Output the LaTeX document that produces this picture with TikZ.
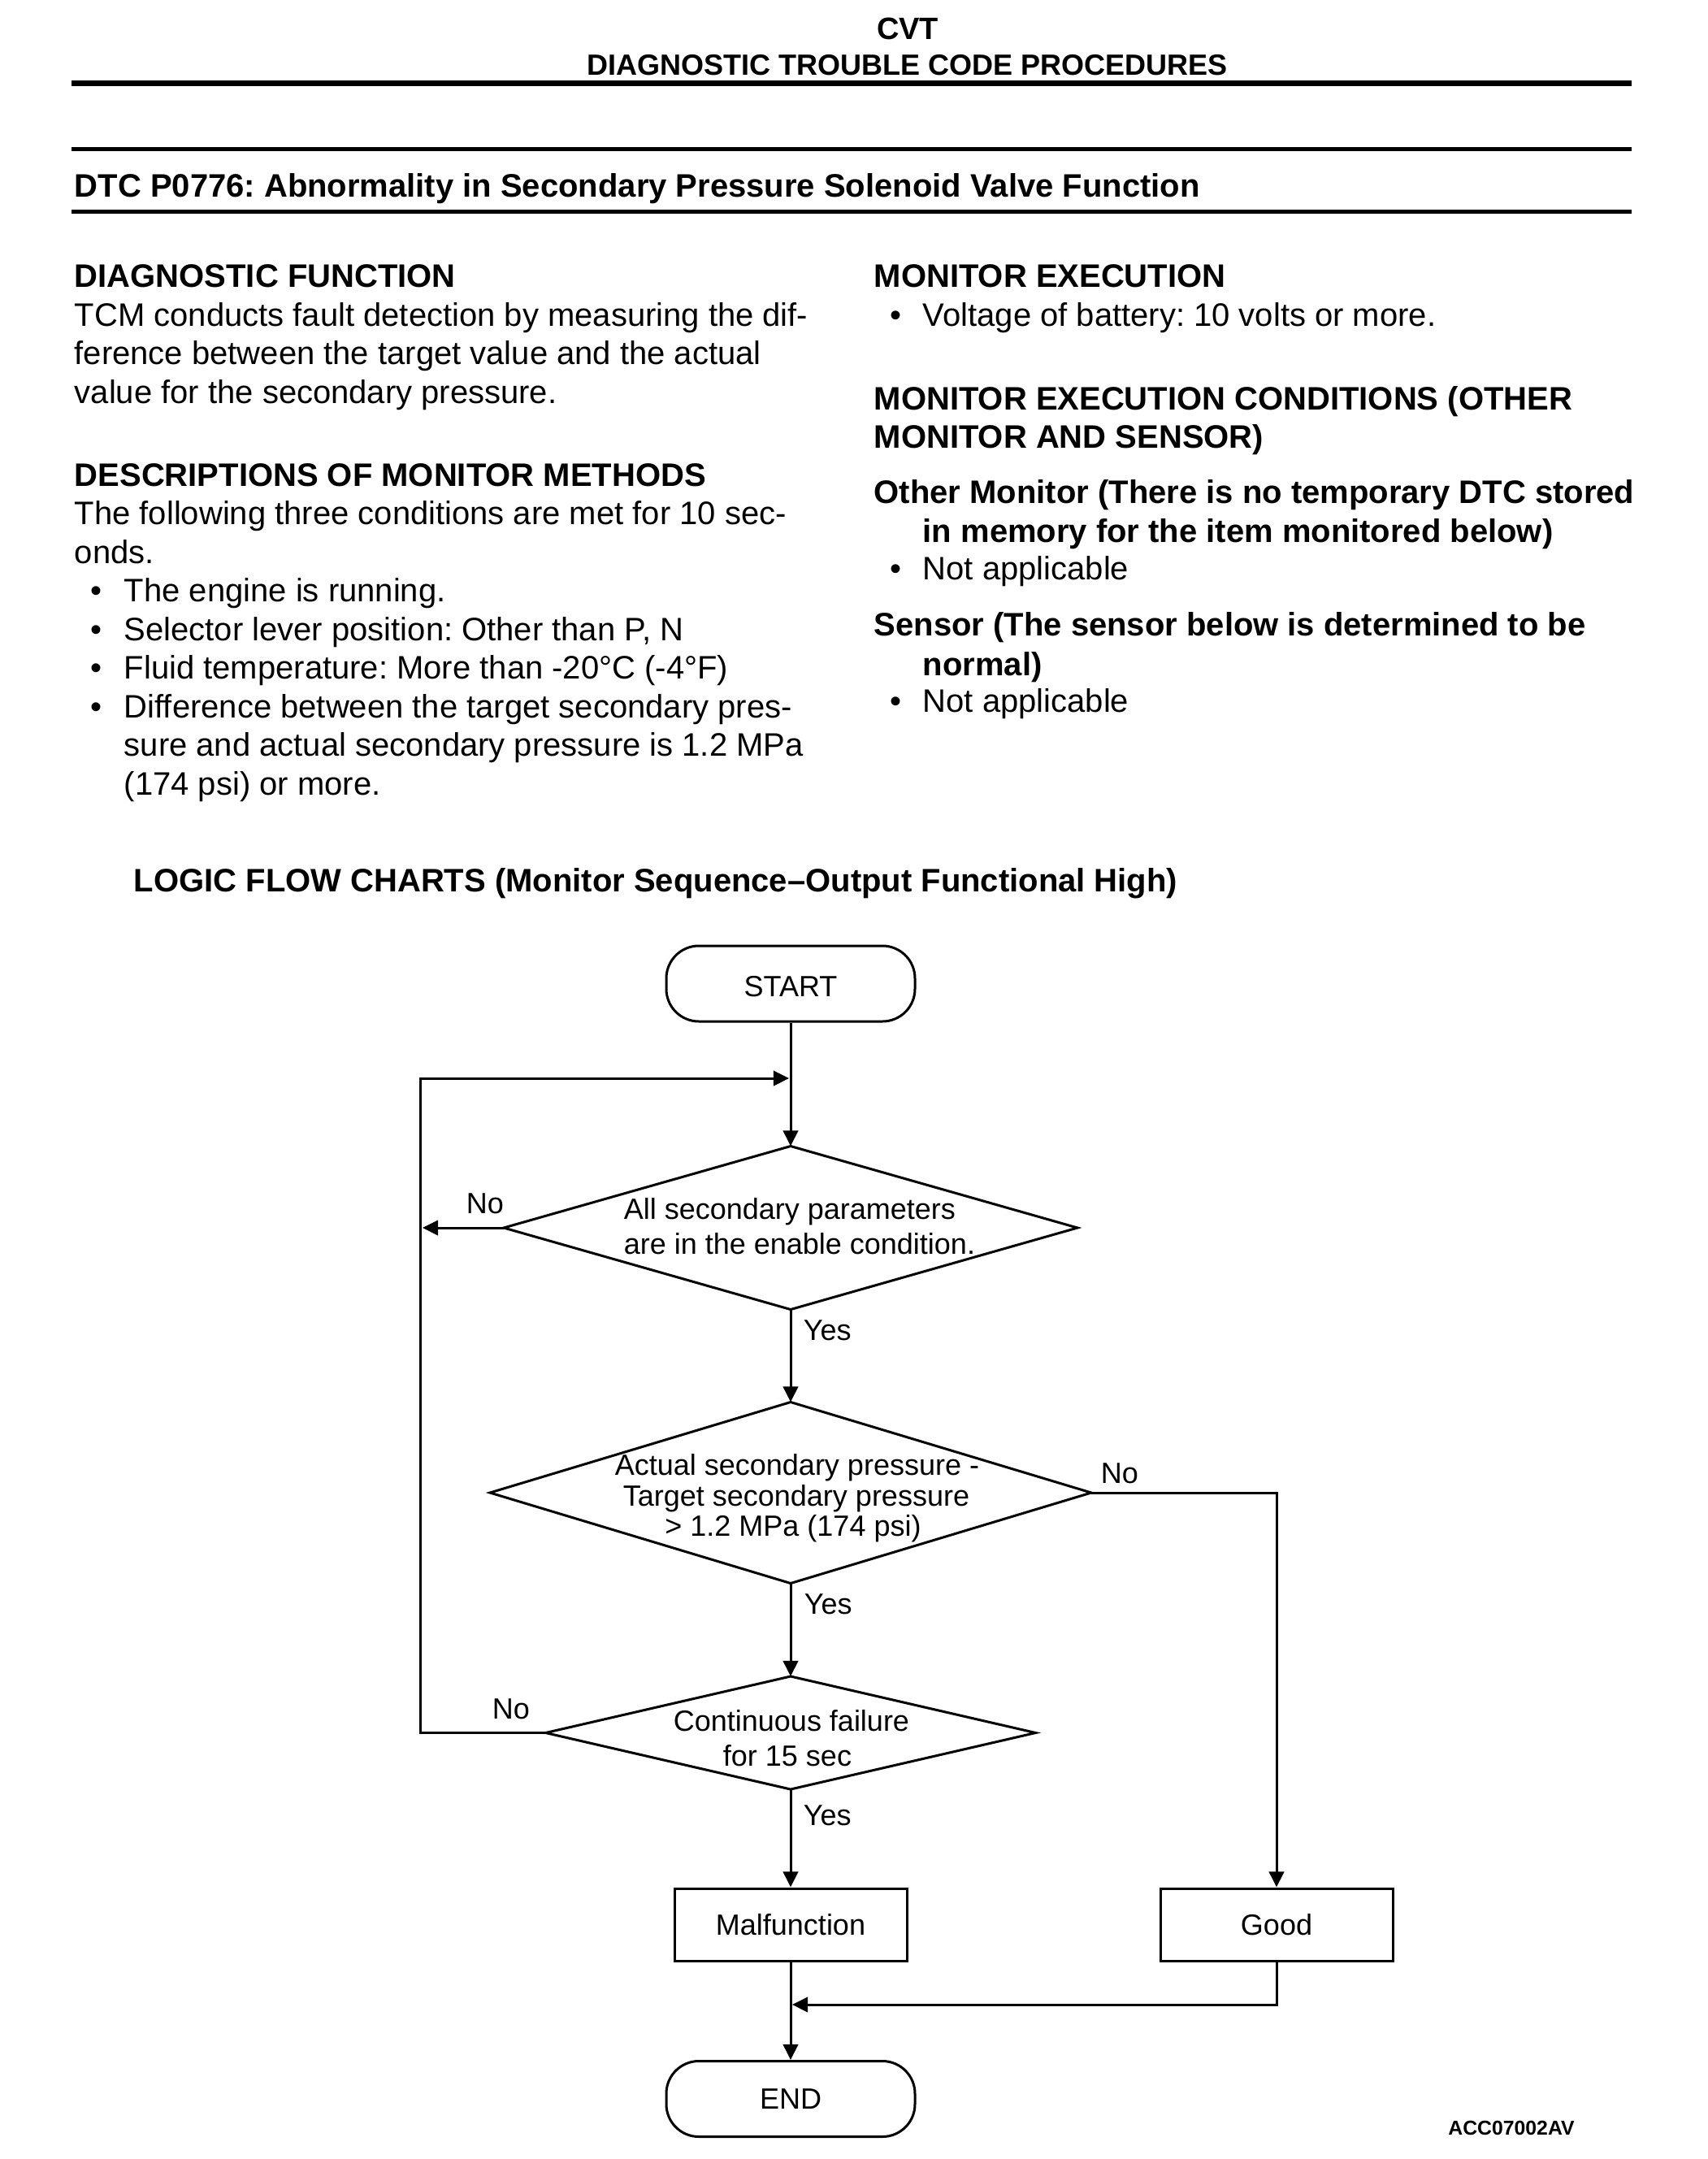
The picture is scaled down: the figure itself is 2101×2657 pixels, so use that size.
\documentclass[tikz,border=0pt]{standalone}
\usepackage{fontspec}
\setmainfont{Liberation Sans}
\usetikzlibrary{arrows.meta,shapes.geometric}
\frenchspacing
\begin{document}
\begin{tikzpicture}[x=0.25pt,y=-0.25pt,
  body/.style={anchor=base west,inner sep=0pt,font=\fontsize{10}{12}\selectfont},
  head/.style={anchor=base west,inner sep=0pt,font=\fontsize{10}{12}\selectfont\bfseries},
  bul/.style={anchor=base,inner sep=0pt,font=\fontsize{10}{12}\selectfont},
  fct/.style={anchor=base,inner sep=0pt,font=\fontsize{9}{11}\selectfont},
  fcl/.style={anchor=base west,inner sep=0pt,font=\fontsize{9}{11}\selectfont},
  term/.style={draw,line width=0.75pt,rectangle,rounded corners=10pt,minimum width=76.5pt,minimum height=23.25pt,inner sep=0pt,font=\fontsize{9}{11}\selectfont},
  box/.style={draw,line width=0.75pt,rectangle,minimum width=71.5pt,minimum height=22.25pt,inner sep=0pt,font=\fontsize{9}{11}\selectfont},
  dia/.style={draw,line width=0.75pt,diamond,inner sep=0pt,outer sep=0pt},
  conn/.style={line width=0.75pt,-{Triangle[length=4.8pt,width=4.6pt]}},
  plain/.style={line width=0.75pt}
]
\useasboundingbox (0,0) rectangle (2101,2657);

% ---------- page header ----------
\node[anchor=base,inner sep=0pt,font=\fontsize{9.5}{11}\selectfont\bfseries] (cvt) at (1117,48) {CVT};
\node[anchor=base,inner sep=0pt,font=\fontsize{9}{11}\selectfont\bfseries] (dtcp) at (1117,92) {DIAGNOSTIC TROUBLE CODE PROCEDURES};
\draw[line width=1.75pt] (88,102) -- (2008,102);
\draw[line width=1.25pt] (88,183) -- (2008,183);
\node[head] (title) at (91,242) {DTC P0776: Abnormality in Secondary Pressure Solenoid Valve Function};
\draw[line width=1.25pt] (88,260) -- (2008,260);

% ---------- left column ----------
\node[head] (h1) at (91,353) {DIAGNOSTIC FUNCTION};
\node[body] (l1) at (91,401) {TCM conducts fault detection by measuring the dif-};
\node[body] (l2) at (91,448) {ference between the target value and the actual};
\node[body] (l3) at (91,496) {value for the secondary pressure.};
\node[head] (h2) at (91,598) {DESCRIPTIONS OF MONITOR METHODS};
\node[body] (l4) at (91,645) {The following three conditions are met for 10 sec-};
\node[body] (l5) at (91,693) {onds.};
\node[bul] (b1) at (119,740) {•};
\node[body] (l6) at (152,740) {The engine is running.};
\node[bul] (b2) at (119,788) {•};
\node[body] (l7) at (152,788) {Selector lever position: Other than P, N};
\node[bul] (b3) at (119,835) {•};
\node[body] (l8) at (152,835) {Fluid temperature: More than -20°C (-4°F)};
\node[bul] (b4) at (119,883) {•};
\node[body] (l9) at (152,883) {Difference between the target secondary pres-};
\node[body] (l10) at (152,930) {sure and actual secondary pressure is 1.2 MPa};
\node[body] (l11) at (152,978) {(174 psi) or more.};

% ---------- right column ----------
\node[head] (h3) at (1075,353) {MONITOR EXECUTION};
\node[bul] (b5) at (1102,401) {•};
\node[body] (r1) at (1135,401) {Voltage of battery: 10 volts or more.};
\node[head] (h4) at (1075,504) {MONITOR EXECUTION CONDITIONS (OTHER};
\node[head] (h4b) at (1075,551) {MONITOR AND SENSOR)};
\node[head] (h5) at (1075,619) {Other Monitor (There is no temporary DTC stored};
\node[head] (h5b) at (1135,667) {in memory for the item monitored below)};
\node[bul] (b6) at (1102,713) {•};
\node[body] (r2) at (1135,713) {Not applicable};
\node[head] (h6) at (1075,782) {Sensor (The sensor below is determined to be};
\node[head] (h6b) at (1135,831) {normal)};
\node[bul] (b7) at (1102,876) {•};
\node[body] (r3) at (1135,876) {Not applicable};

% ---------- flow chart ----------
\node[head] (h7) at (164,1097) {LOGIC FLOW CHARTS (Monitor Sequence–Output Functional High)};

\node[term,text height=8.2pt,text depth=0pt] (start) at (973,1210.5) {START};
\node[dia,minimum width=176.5pt,minimum height=50.25pt] (d1) at (973,1511) {};
\node[fcl] (d1a) at (767,1500) {All secondary parameters};
\node[fcl] (d1b) at (767,1543) {are in the enable condition.};

\node[dia,minimum width=185pt,minimum height=55.75pt] (d2) at (973,1837) {};
\node[fct] (d2a) at (981,1815) {Actual secondary pressure -};
\node[fct] (d2b) at (980,1853) {Target secondary pressure};
\node[fct] (d2c) at (976,1890) {> 1.2 MPa (174 psi)};

\node[dia,minimum width=150.75pt,minimum height=34.75pt] (d3) at (973,2132.5) {};
\node[fct] (d3a) at (974,2130) {Continuous failure};
\node[fct] (d3b) at (969,2173) {for 15 sec};

\node[box] (malf) at (973,2368.5) {Malfunction};
\node[box] (good) at (1571,2368.5) {Good};
\node[term] (end) at (973,2583) {END};

\node[fct,font=\fontsize{6.2}{7}\selectfont\bfseries] (acc) at (1860,2627) {ACC07002AV};

% labels
\node[fcl] (no1) at (573,1493) {No};
\node[fcl] (yes1) at (988,1649) {Yes};
\node[fcl] (no2) at (1354,1825) {No};
\node[fcl] (yes2) at (989,1986) {Yes};
\node[fcl] (no3) at (605,2115) {No};
\node[fcl] (yes3) at (988,2246) {Yes};

% junction coordinates
\coordinate (j1) at (971,1327);
\coordinate (loopx) at (517,1327);
\coordinate (n1) at (520,1511);
\coordinate (j2) at (975,2467);

% connectors
\draw[conn] (start.south) -- (d1.north);
\draw[conn] (d1.west) -- (n1);
\draw[conn] (d1.south) -- (d2.north);
\draw[conn] (d2.south) -- (d3.north);
\draw[conn] (d3.south) -- (malf.north);
\draw[conn] (d2.east) -| (good.north);
\draw[conn] (d3.west) -| (loopx) -- (j1);
\draw[conn] (malf.south) -- (end.north);
\draw[conn] (good.south) |- (j2);
\end{tikzpicture}
\end{document}
